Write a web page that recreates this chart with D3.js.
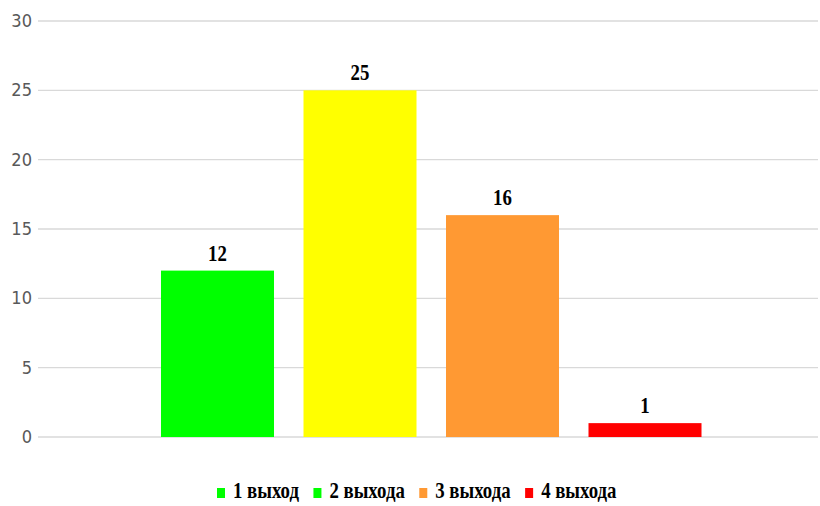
<!DOCTYPE html>
<html>
<head>
<meta charset="utf-8">
<script src="https://cdn.jsdelivr.net/npm/d3@7"></script>
<style>
  html, body { margin: 0; padding: 0; background: #fff; }
  svg { display: block; }
</style>
</head>
<body>
<svg id="chart" width="820" height="506"></svg>
<script>
// Data
const categories = ["1 выход", "2 выхода", "3 выхода", "4 выхода"];
const values = [12, 25, 16, 1];
const barColors = ["#00ff00", "#ffff00", "#ff9933", "#ff0000"];
const legendColors = ["#00ff00", "#00ff00", "#ff9933", "#ff0000"];
const yTicks = [0, 5, 10, 15, 20, 25, 30];

const svg = d3.select("#chart");
const squeeze = 0.8; // narrow glyph proportions for the serif labels

const x = d3.scaleBand()
  .domain(categories)
  .range([131.5, 731])
  .paddingInner(0.207)
  .paddingOuter(0.207);

const y = d3.scaleLinear().domain([0, 30]).range([437, 21]);

// Gridlines
svg.append("g")
  .selectAll("line")
  .data(yTicks)
  .join("line")
  .attr("x1", 38).attr("x2", 818)
  .attr("y1", d => y(d)).attr("y2", d => y(d))
  .attr("stroke", "#d9d9d9")
  .attr("stroke-width", 1.3);

// Y axis labels
const yAxis = d3.axisLeft(y).tickValues(yTicks).tickSize(0).tickPadding(0);
const gy = svg.append("g").attr("transform", "translate(32,0)").call(yAxis);
gy.select(".domain").remove();
gy.selectAll("text")
  .attr("font-family", "DejaVu Sans, sans-serif")
  .attr("font-size", 17.5)
  .attr("fill", "#595959")
  .attr("transform", "scale(0.93,1)")
  .attr("x", 0);

// Bars
svg.append("g")
  .selectAll("rect")
  .data(values)
  .join("rect")
  .attr("x", (d, i) => x(categories[i]))
  .attr("width", x.bandwidth())
  .attr("y", d => y(d))
  .attr("height", d => y(0) - y(d))
  .attr("fill", (d, i) => barColors[i]);

// Value labels
svg.append("g")
  .selectAll("text")
  .data(values)
  .join("text")
  .attr("transform", (d, i) =>
    `translate(${x(categories[i]) + x.bandwidth() / 2},${y(d) - 10}) scale(${squeeze},1)`)
  .attr("text-anchor", "middle")
  .attr("font-family", "Liberation Serif, Times New Roman, serif")
  .attr("font-weight", "bold")
  .attr("font-size", 23.5)
  .attr("fill", "#000")
  .text(d => d);

// Legend
const legend = svg.append("g");
const items = legend.selectAll("g")
  .data(categories)
  .join("g");
items.append("rect")
  .attr("width", 8).attr("height", 10)
  .attr("y", -10)
  .attr("fill", (d, i) => legendColors[i]);
items.append("text")
  .attr("transform", `translate(16,0) scale(${squeeze},1)`)
  .attr("font-family", "Liberation Serif, Times New Roman, serif")
  .attr("font-weight", "bold")
  .attr("font-size", 23.5)
  .attr("fill", "#000")
  .text(d => d);

const gap = 14.5;
const widths = [];
items.each(function () {
  const t = d3.select(this).select("text").node();
  widths.push(16 + t.getComputedTextLength() * squeeze);
});
const start = 217;
items.attr("transform", (d, i) => {
  const tx = start + d3.sum(widths.slice(0, i)) + gap * i;
  return `translate(${tx},498)`;
});
</script>
</body>
</html>
